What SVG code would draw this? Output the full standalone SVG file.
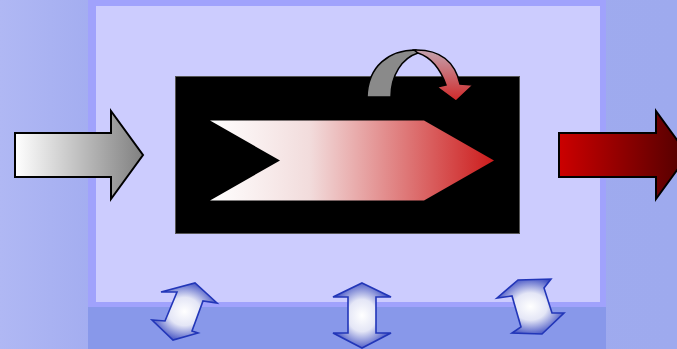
<svg xmlns="http://www.w3.org/2000/svg" width="677" height="349" viewBox="0 0 677 349">
  <defs>
    <linearGradient id="bg" x1="0" y1="0" x2="1" y2="0">
      <stop offset="0" stop-color="#b0b8f4"/>
      <stop offset="0.15" stop-color="#a2acf0"/>
      <stop offset="1" stop-color="#9eaaee"/>
    </linearGradient>
    <linearGradient id="gIn" gradientUnits="userSpaceOnUse" x1="15" y1="0" x2="143" y2="0">
      <stop offset="0" stop-color="#ffffff"/>
      <stop offset="1" stop-color="#808080"/>
    </linearGradient>
    <linearGradient id="gOut" gradientUnits="userSpaceOnUse" x1="559" y1="0" x2="688" y2="0">
      <stop offset="0" stop-color="#cc0000"/>
      <stop offset="1" stop-color="#500000"/>
    </linearGradient>
    <linearGradient id="gChev" gradientUnits="userSpaceOnUse" x1="210" y1="0" x2="494" y2="0">
      <stop offset="0" stop-color="#ffffff"/>
      <stop offset="0.35" stop-color="#f2dcdc"/>
      <stop offset="1" stop-color="#cc1c1c"/>
    </linearGradient>
    <linearGradient id="gLoop" gradientUnits="userSpaceOnUse" x1="0" y1="50" x2="0" y2="101">
      <stop offset="0" stop-color="#c4a4b0"/>
      <stop offset="1" stop-color="#d02828"/>
    </linearGradient>
    <radialGradient id="gBlue" cx="0.5" cy="0.5" r="0.55">
      <stop offset="0" stop-color="#ffffff"/>
      <stop offset="0.45" stop-color="#e4e6f6"/>
      <stop offset="1" stop-color="#3848c0"/>
    </radialGradient>
    <style>
      .big { stroke: #000; stroke-width: 2; stroke-linejoin: miter; }
      .dbl { fill: url(#gBlue); stroke: #2236b8; stroke-width: 1.6; stroke-linejoin: miter; }
      .loop { stroke: #000; stroke-width: 1.5; }
    </style>
  </defs>

  <g id="background">
    <rect x="0" y="0" width="677" height="349" fill="url(#bg)"/>
    <rect x="88" y="0" width="518" height="349" fill="#a0a2fc"/>
    <rect x="88" y="307" width="518" height="42" fill="#8898ea"/>
    <rect x="96" y="6" width="504" height="296" fill="#ccccfe"/>
  </g>

  <g id="process">
    <rect x="175.5" y="76.5" width="344" height="157" fill="#000" stroke="#555" stroke-width="1"/>
    <polygon points="210,120.5 424,120.5 494,160.5 424,200.5 210,200.5 280,160.5" fill="url(#gChev)"/>
  </g>

  <g id="feedback">
    <path class="loop" d="M367,97 C368,66 389,50 416,50 L418,53 C402,58 391,75 391,97 Z" fill="#8a8a8a"/>
    <path class="loop" d="M414,50 C440,49 455,62 460,84 L473,85 L456,101 L437,87 L446,85 C440,68 430,57 418,53 Z" fill="url(#gLoop)"/>
  </g>

  <g id="input">
    <polygon class="big" points="15,133 111,133 111,111 143,155 111,199 111,177 15,177" fill="url(#gIn)"/>
  </g>

  <g id="output">
    <polygon class="big" points="559,133 656,133 656,111 688,155 656,199 656,177 559,177" fill="url(#gOut)"/>
  </g>

  <g id="exchange-left">
    <polygon class="dbl" points="161,292 195,283 217,303 203,301 192,331 198,333 173,340 152,320 165,321 177,292"/>
  </g>
  <g id="exchange-middle">
    <polygon class="dbl" points="362,283 391,297 376,297 376,333 391,333 362,348 333,333 348,333 348,297 333,297"/>
  </g>
  <g id="exchange-right">
    <polygon class="dbl" points="497,298 518,280 551,279 544,288 552,313 564,313 542,334 512,333 521,327 512,296"/>
  </g>
</svg>
